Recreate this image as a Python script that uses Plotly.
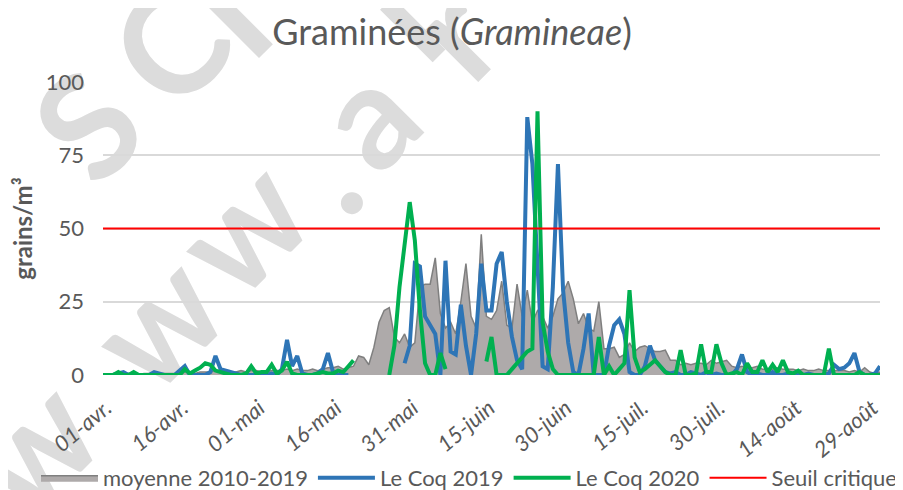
import plotly.graph_objects as go
import pandas as pd

# ---------------- data ----------------
dates = pd.date_range("2020-04-01", "2020-08-31", freq="D")

moyenne_2010_2019 = [
    0, 0, 0.5, 0.5, 0.5, 0.5, 0.5, 0, 0.5, 0.5,
    0.5, 0.5, 0.5, 0.5, 0.5, 0.5, 1, 1, 0.5, 1,
    1, 1, 1.5, 1.5, 1, 1, 1, 1.5, 1, 1.5,
    1.5, 1, 1, 1.5, 1.5, 1.5, 2, 1.5, 2, 1.5,
    1.5, 2, 1.5, 2, 2.5, 2.5, 3, 2, 2.5, 3,
    6.5, 6, 3.5, 9.5, 18, 22, 23, 13, 11, 14,
    9.5, 11, 30, 31, 31, 40, 21, 16, 18, 14,
    25, 38, 20, 16, 48, 20, 19, 22, 32, 17,
    16, 31, 20, 29, 18, 22, 20, 16, 20, 26,
    28, 32, 26, 17.5, 21, 16, 15, 25, 9, 9,
    9.5, 6, 7, 11, 8, 9.5, 10, 9, 8, 8,
    8.5, 5, 5, 3.5, 4, 3.5, 4, 4, 3.5, 5,
    4, 4.5, 5, 3, 2.5, 3, 2.5, 2.5, 3, 2,
    2, 2, 2.5, 2, 2, 2, 1.5, 2, 1.5, 1.5,
    2, 1.5, 1.5, 1.5, 1.5, 1.5, 1, 1.5, 1, 2.5,
    1, 0.5, 1,
]

le_coq_2019 = [
    0, 0, 0, 0.5, 1, 0, 0, 0, 0, 0,
    1, 0.5, 0, 0, 0, 1.5, 3, 0, 0, 0,
    0, 1, 6.5, 2, 1.5, 1, 0.5, 0, 0, 0,
    0, 0, 0, 0.5, 0, 2, 12, 3, 6.5, 0.5,
    0, 0, 0.5, 2, 7.5, 1, 0, 0, 0, None,
    None, None, None, None, None, None, None, None, None, 4,
    10, 38, 37, 20, 17, 14, 0, 39, 8, 7,
    24, 10, 0, 14, 38, 22, 22, 38, 42, 25,
    13, 5, 2, 88, 72, 37, 3, 2, 30, 72,
    29, 11, 1, 0, 9, 21, 0, 0, 0, 10,
    17, 19, 14, 1, 0, 0, 3, 10, 5, 3,
    1, 0.5, 1, 0, 0, 1, 0.5, 0, 1, 0,
    0.5, 0, 0, 0, 2, 7, 1, 0, 0.5, 0,
    0, 1, 0, 0, 0.5, 0, 0, 0, 0.5, 0,
    0, 0, 0.5, 3.5, 2, 2.5, 4, 7.5, 1, 0,
    0, 0.5, 3,
]

le_coq_2020 = [
    0, 0, 0, 1, 0, 0, 1, 0, 0, 0,
    0, 0, 0, 0, 0, 0, 2, 0.5, 1.5, 2.5,
    4, 3.5, 1.5, 1, 0.5, 0, 0, 0, 0.5, 3,
    0.5, 1, 1, 3.5, 0.5, 1.5, 4.5, 0.5, 0, 0,
    0, 0, 0.5, 1, 0.5, 0.5, 1.5, 1, 3, 5,
    None, None, None, None, None, None, 0, 10, 30, 44,
    59, 46, 22, 4, 0, 0, 7.5, 2, None, None,
    None, None, None, None, None, 4.6, 13, 0, 0, 0,
    2, 4, 6, 8, 9, 90, 18, 8, 2, 0,
    0, 0, 0, 0, 0, 0, 0, 13, 0, 3,
    0, 2, 4, 29, 6, 1, 2, 3.5, 5, 3,
    1, 0, 0, 8.5, 0, 0, 0.5, 10.5, 1, 1,
    10.5, 4, 0, 0.5, 1, 0, 4, 1, 1, 5,
    1, 3.5, 1, 5, 1, 0.5, 1.5, 0, 0, 0,
    0, 0, 9, 0, 0, 0, 0, 0, 1, 0,
    0, 0, 0,
]

seuil_critique = 50

tick_days = [0, 15, 30, 45, 60, 75, 90, 105, 120, 135, 150]
tick_labels = ["01-avr.", "16-avr.", "01-mai", "16-mai", "31-mai", "15-juin",
               "30-juin", "15-juil.", "30-juil.", "14-août", "29-août"]
y_ticks = [0, 25, 50, 75, 100]

# watermark glyphs (light grey diagonal text behind the chart)
watermark_glyphs = ["S", "C", "I", "w", "w", "w", ".", "a", "i", "r"]
watermark_centers = [(84, 122), (167, 42), (225, 10), (28, 443), (153, 318),
                     (238, 223), (318, 169), (363, 112), (398, 15), (450, 28)]

# ---------------- figure ----------------
TXT = "#595959"
FONT = "Lato, 'Open Sans', sans-serif"

# the page body has an 8 px margin: work in page pixels, then offset
OFF = 8
PAGE_W, PAGE_H = 903, 490
L, T, PW, PH = 103, 82, 777.0, 293.0        # plot area in page pixels
FIG_W, FIG_H = PAGE_W - OFF, PAGE_H - OFF

fig = go.Figure()
fig.add_trace(go.Scatter(
    x=dates, y=moyenne_2010_2019, name="moyenne 2010-2019", mode="lines",
    fill="tozeroy", fillcolor="#AEAAAA", line=dict(color="#7F7F7F", width=1.5),
))
fig.add_trace(go.Scatter(
    x=dates, y=le_coq_2019, name="Le Coq 2019", mode="lines",
    line=dict(color="#2E75B6", width=4), connectgaps=False,
))
fig.add_trace(go.Scatter(
    x=dates, y=le_coq_2020, name="Le Coq 2020", mode="lines",
    line=dict(color="#00B050", width=4), connectgaps=False,
))
fig.add_trace(go.Scatter(
    x=dates, y=[seuil_critique] * len(dates), name="Seuil critique", mode="lines",
    line=dict(color="#FF0000", width=2),
))


def to_paper(x, y):
    return (x - L) / PW, (T + PH - y) / PH


for glyph, (cx, cy) in zip(watermark_glyphs, watermark_centers):
    x0, y0 = to_paper(cx - 1, cy + 1)
    x1, y1 = to_paper(cx + 1, cy - 1)
    fig.add_shape(
        type="line", xref="paper", yref="paper", x0=x0, y0=y0, x1=x1, y1=y1,
        line=dict(width=0, color="rgba(0,0,0,0)"), layer="below",
        label=dict(text=glyph, font=dict(size=145, color="#DCDCDC", family=FONT, weight="bold"),
                   textangle=-45, textposition="middle", xanchor="center", yanchor="middle"),
    )

fig.update_layout(
    width=FIG_W, height=FIG_H,
    margin=dict(l=L - OFF, r=FIG_W - (L - OFF) - int(PW), t=T - OFF,
                b=FIG_H - (T - OFF) - int(PH), autoexpand=False),
    paper_bgcolor="white", plot_bgcolor="rgba(0,0,0,0)",
    font=dict(family=FONT, color=TXT),
    title=dict(text="Graminées (<i>Gramineae</i>)", xref="container",
               x=(452 - OFF) / FIG_W, xanchor="center",
               y=1 - (32 - OFF) / FIG_H, yanchor="middle", font=dict(size=36, color=TXT)),
    showlegend=True,
    legend=dict(orientation="h", x=(36 - L) / PW, xanchor="left", y=(T + PH - 478) / PH,
                yanchor="middle", font=dict(size=22, color=TXT), bgcolor="rgba(0,0,0,0)",
                itemwidth=57),
    xaxis=dict(
        type="date", range=[dates[0], dates[-1]],
        tickvals=[dates[d] for d in tick_days], ticktext=tick_labels,
        tickangle=-40, tickfont=dict(size=22, style="italic", color=TXT),
        showgrid=False, showline=False, zeroline=False, ticks="",
        ticklabelstandoff=15, ticklabelshift=3, automargin=False,
    ),
    yaxis=dict(
        range=[0, 100], tickvals=y_ticks, showgrid=True, gridcolor="#D9D9D9", gridwidth=1.5,
        zeroline=False, showline=False, ticks="", tickfont=dict(size=22, color=TXT),
        ticklabelstandoff=18, automargin=False,
        title=dict(text="grains/m³", font=dict(size=24, color=TXT, weight="bold"), standoff=8),
    ),
)

fig.write_html("out.html")
